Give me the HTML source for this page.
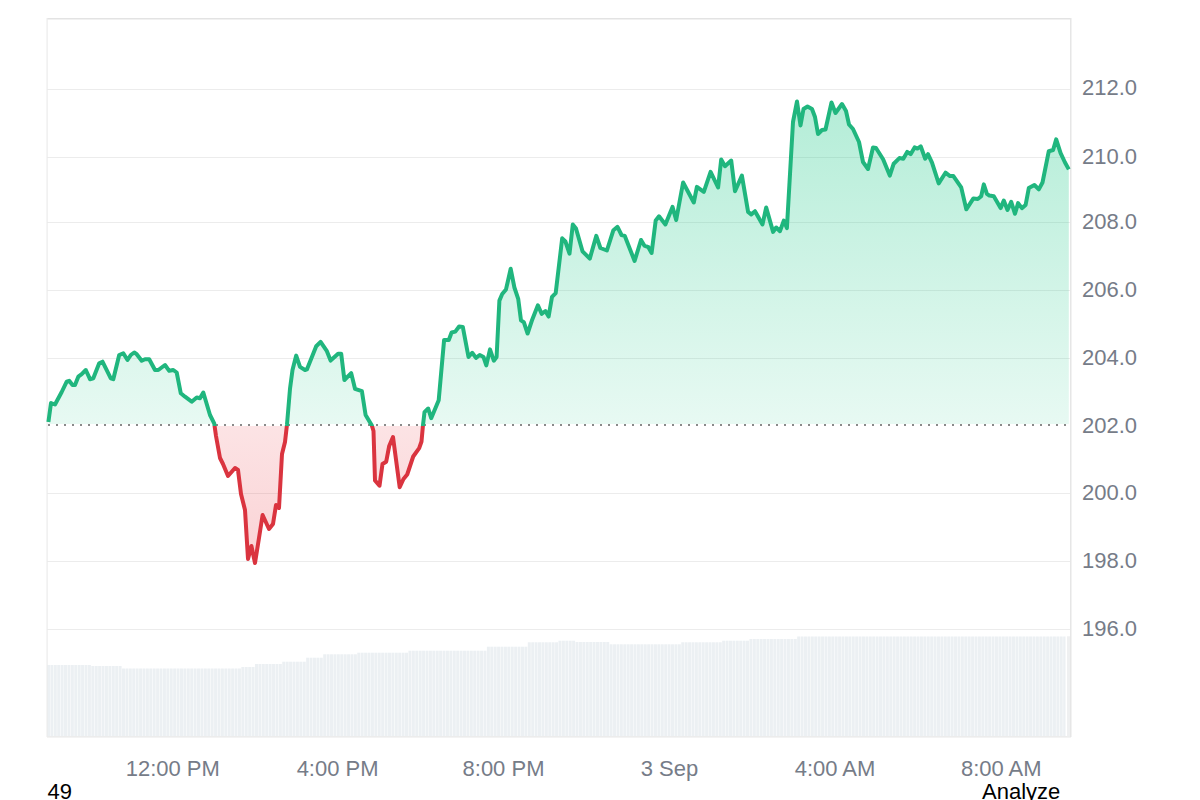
<!DOCTYPE html>
<html><head><meta charset="utf-8"><style>
html,body{margin:0;padding:0;background:#fff;width:1200px;height:800px;overflow:hidden}
svg{display:block;font-family:"Liberation Sans",sans-serif}
.lab{position:absolute;font-family:"Liberation Sans",sans-serif;font-size:21px;color:#000}
</style></head><body>
<svg width="1200" height="800" viewBox="0 0 1200 800">
<defs>
<linearGradient id="gg" x1="0" y1="18" x2="0" y2="426" gradientUnits="userSpaceOnUse">
<stop offset="0" stop-color="#16c784" stop-opacity="0.38"/>
<stop offset="1" stop-color="#16c784" stop-opacity="0.10"/>
</linearGradient>
<linearGradient id="rg" x1="0" y1="426" x2="0" y2="737" gradientUnits="userSpaceOnUse">
<stop offset="0" stop-color="#ea3943" stop-opacity="0.14"/>
<stop offset="1" stop-color="#ea3943" stop-opacity="0.33"/>
</linearGradient>
<clipPath id="top"><rect x="0" y="0" width="1200" height="426"/></clipPath>
<clipPath id="topf"><rect x="0" y="0" width="1200" height="424"/></clipPath>
<clipPath id="bot"><rect x="0" y="426" width="1200" height="374"/></clipPath>
</defs>
<rect width="1200" height="800" fill="#fff"/>
<g fill="#ecf0f3">
<rect x="47.00" y="665.0" width="2.96" height="71.0"/>
<rect x="50.41" y="665.0" width="2.96" height="71.0"/>
<rect x="53.82" y="665.0" width="2.96" height="71.0"/>
<rect x="57.23" y="665.0" width="2.96" height="71.0"/>
<rect x="60.64" y="665.0" width="2.96" height="71.0"/>
<rect x="64.05" y="665.0" width="2.96" height="71.0"/>
<rect x="67.46" y="665.0" width="2.96" height="71.0"/>
<rect x="70.87" y="665.0" width="2.96" height="71.0"/>
<rect x="74.28" y="665.0" width="2.96" height="71.0"/>
<rect x="77.69" y="665.0" width="2.96" height="71.0"/>
<rect x="81.10" y="665.0" width="2.96" height="71.0"/>
<rect x="84.51" y="665.0" width="2.96" height="71.0"/>
<rect x="87.92" y="665.0" width="2.96" height="71.0"/>
<rect x="91.33" y="666.0" width="2.96" height="70.0"/>
<rect x="94.74" y="666.0" width="2.96" height="70.0"/>
<rect x="98.15" y="666.0" width="2.96" height="70.0"/>
<rect x="101.56" y="666.0" width="2.96" height="70.0"/>
<rect x="104.97" y="666.0" width="2.96" height="70.0"/>
<rect x="108.38" y="666.0" width="2.96" height="70.0"/>
<rect x="111.79" y="666.0" width="2.96" height="70.0"/>
<rect x="115.20" y="666.0" width="2.96" height="70.0"/>
<rect x="118.61" y="666.0" width="2.96" height="70.0"/>
<rect x="122.02" y="668.5" width="2.96" height="67.5"/>
<rect x="125.43" y="668.5" width="2.96" height="67.5"/>
<rect x="128.84" y="668.5" width="2.96" height="67.5"/>
<rect x="132.25" y="668.5" width="2.96" height="67.5"/>
<rect x="135.66" y="668.5" width="2.96" height="67.5"/>
<rect x="139.07" y="668.5" width="2.96" height="67.5"/>
<rect x="142.48" y="668.5" width="2.96" height="67.5"/>
<rect x="145.89" y="668.5" width="2.96" height="67.5"/>
<rect x="149.30" y="668.5" width="2.96" height="67.5"/>
<rect x="152.71" y="668.5" width="2.96" height="67.5"/>
<rect x="156.12" y="668.5" width="2.96" height="67.5"/>
<rect x="159.53" y="668.5" width="2.96" height="67.5"/>
<rect x="162.94" y="668.5" width="2.96" height="67.5"/>
<rect x="166.35" y="668.5" width="2.96" height="67.5"/>
<rect x="169.76" y="668.5" width="2.96" height="67.5"/>
<rect x="173.17" y="668.5" width="2.96" height="67.5"/>
<rect x="176.58" y="668.5" width="2.96" height="67.5"/>
<rect x="179.99" y="668.5" width="2.96" height="67.5"/>
<rect x="183.40" y="668.5" width="2.96" height="67.5"/>
<rect x="186.81" y="668.5" width="2.96" height="67.5"/>
<rect x="190.22" y="668.5" width="2.96" height="67.5"/>
<rect x="193.63" y="668.5" width="2.96" height="67.5"/>
<rect x="197.04" y="668.5" width="2.96" height="67.5"/>
<rect x="200.45" y="668.5" width="2.96" height="67.5"/>
<rect x="203.86" y="668.5" width="2.96" height="67.5"/>
<rect x="207.27" y="668.5" width="2.96" height="67.5"/>
<rect x="210.68" y="668.5" width="2.96" height="67.5"/>
<rect x="214.09" y="668.5" width="2.96" height="67.5"/>
<rect x="217.50" y="668.5" width="2.96" height="67.5"/>
<rect x="220.91" y="668.5" width="2.96" height="67.5"/>
<rect x="224.32" y="668.5" width="2.96" height="67.5"/>
<rect x="227.73" y="668.5" width="2.96" height="67.5"/>
<rect x="231.14" y="668.5" width="2.96" height="67.5"/>
<rect x="234.55" y="668.5" width="2.96" height="67.5"/>
<rect x="237.96" y="668.5" width="2.96" height="67.5"/>
<rect x="241.37" y="667.0" width="2.96" height="69.0"/>
<rect x="244.78" y="667.0" width="2.96" height="69.0"/>
<rect x="248.19" y="667.0" width="2.96" height="69.0"/>
<rect x="251.60" y="667.0" width="2.96" height="69.0"/>
<rect x="255.01" y="664.0" width="2.96" height="72.0"/>
<rect x="258.42" y="664.0" width="2.96" height="72.0"/>
<rect x="261.83" y="664.0" width="2.96" height="72.0"/>
<rect x="265.24" y="664.0" width="2.96" height="72.0"/>
<rect x="268.65" y="664.0" width="2.96" height="72.0"/>
<rect x="272.06" y="664.0" width="2.96" height="72.0"/>
<rect x="275.47" y="664.0" width="2.96" height="72.0"/>
<rect x="278.88" y="664.0" width="2.96" height="72.0"/>
<rect x="282.29" y="661.7" width="2.96" height="74.3"/>
<rect x="285.70" y="661.7" width="2.96" height="74.3"/>
<rect x="289.11" y="661.7" width="2.96" height="74.3"/>
<rect x="292.52" y="661.7" width="2.96" height="74.3"/>
<rect x="295.93" y="661.7" width="2.96" height="74.3"/>
<rect x="299.34" y="661.7" width="2.96" height="74.3"/>
<rect x="302.75" y="661.7" width="2.96" height="74.3"/>
<rect x="306.16" y="657.7" width="2.96" height="78.3"/>
<rect x="309.57" y="657.7" width="2.96" height="78.3"/>
<rect x="312.98" y="657.7" width="2.96" height="78.3"/>
<rect x="316.39" y="657.7" width="2.96" height="78.3"/>
<rect x="319.80" y="657.7" width="2.96" height="78.3"/>
<rect x="323.21" y="654.3" width="2.96" height="81.7"/>
<rect x="326.62" y="654.3" width="2.96" height="81.7"/>
<rect x="330.03" y="654.3" width="2.96" height="81.7"/>
<rect x="333.44" y="654.3" width="2.96" height="81.7"/>
<rect x="336.85" y="654.3" width="2.96" height="81.7"/>
<rect x="340.26" y="654.3" width="2.96" height="81.7"/>
<rect x="343.67" y="654.3" width="2.96" height="81.7"/>
<rect x="347.08" y="654.3" width="2.96" height="81.7"/>
<rect x="350.49" y="654.3" width="2.96" height="81.7"/>
<rect x="353.90" y="654.3" width="2.96" height="81.7"/>
<rect x="357.31" y="652.7" width="2.96" height="83.3"/>
<rect x="360.72" y="652.7" width="2.96" height="83.3"/>
<rect x="364.13" y="652.7" width="2.96" height="83.3"/>
<rect x="367.54" y="652.7" width="2.96" height="83.3"/>
<rect x="370.95" y="652.7" width="2.96" height="83.3"/>
<rect x="374.36" y="652.7" width="2.96" height="83.3"/>
<rect x="377.77" y="652.7" width="2.96" height="83.3"/>
<rect x="381.18" y="652.7" width="2.96" height="83.3"/>
<rect x="384.59" y="652.7" width="2.96" height="83.3"/>
<rect x="388.00" y="652.7" width="2.96" height="83.3"/>
<rect x="391.41" y="652.7" width="2.96" height="83.3"/>
<rect x="394.82" y="652.7" width="2.96" height="83.3"/>
<rect x="398.23" y="652.7" width="2.96" height="83.3"/>
<rect x="401.64" y="652.7" width="2.96" height="83.3"/>
<rect x="405.05" y="652.7" width="2.96" height="83.3"/>
<rect x="408.46" y="650.7" width="2.96" height="85.3"/>
<rect x="411.87" y="650.7" width="2.96" height="85.3"/>
<rect x="415.28" y="650.7" width="2.96" height="85.3"/>
<rect x="418.69" y="650.7" width="2.96" height="85.3"/>
<rect x="422.10" y="650.7" width="2.96" height="85.3"/>
<rect x="425.51" y="650.7" width="2.96" height="85.3"/>
<rect x="428.92" y="650.7" width="2.96" height="85.3"/>
<rect x="432.33" y="650.7" width="2.96" height="85.3"/>
<rect x="435.74" y="650.7" width="2.96" height="85.3"/>
<rect x="439.15" y="650.7" width="2.96" height="85.3"/>
<rect x="442.56" y="650.7" width="2.96" height="85.3"/>
<rect x="445.97" y="650.7" width="2.96" height="85.3"/>
<rect x="449.38" y="650.7" width="2.96" height="85.3"/>
<rect x="452.79" y="650.7" width="2.96" height="85.3"/>
<rect x="456.20" y="650.7" width="2.96" height="85.3"/>
<rect x="459.61" y="650.7" width="2.96" height="85.3"/>
<rect x="463.02" y="650.7" width="2.96" height="85.3"/>
<rect x="466.43" y="650.7" width="2.96" height="85.3"/>
<rect x="469.84" y="650.7" width="2.96" height="85.3"/>
<rect x="473.25" y="650.7" width="2.96" height="85.3"/>
<rect x="476.66" y="650.7" width="2.96" height="85.3"/>
<rect x="480.07" y="650.7" width="2.96" height="85.3"/>
<rect x="483.48" y="650.7" width="2.96" height="85.3"/>
<rect x="486.89" y="646.7" width="2.96" height="89.3"/>
<rect x="490.30" y="646.7" width="2.96" height="89.3"/>
<rect x="493.71" y="646.7" width="2.96" height="89.3"/>
<rect x="497.12" y="646.7" width="2.96" height="89.3"/>
<rect x="500.53" y="646.7" width="2.96" height="89.3"/>
<rect x="503.94" y="646.7" width="2.96" height="89.3"/>
<rect x="507.35" y="646.7" width="2.96" height="89.3"/>
<rect x="510.76" y="646.7" width="2.96" height="89.3"/>
<rect x="514.17" y="646.7" width="2.96" height="89.3"/>
<rect x="517.58" y="646.7" width="2.96" height="89.3"/>
<rect x="520.99" y="646.7" width="2.96" height="89.3"/>
<rect x="524.40" y="646.7" width="2.96" height="89.3"/>
<rect x="527.81" y="642.3" width="2.96" height="93.7"/>
<rect x="531.22" y="642.3" width="2.96" height="93.7"/>
<rect x="534.63" y="642.3" width="2.96" height="93.7"/>
<rect x="538.04" y="642.3" width="2.96" height="93.7"/>
<rect x="541.45" y="642.3" width="2.96" height="93.7"/>
<rect x="544.86" y="642.3" width="2.96" height="93.7"/>
<rect x="548.27" y="642.3" width="2.96" height="93.7"/>
<rect x="551.68" y="642.3" width="2.96" height="93.7"/>
<rect x="555.09" y="642.3" width="2.96" height="93.7"/>
<rect x="558.50" y="640.7" width="2.96" height="95.3"/>
<rect x="561.91" y="640.7" width="2.96" height="95.3"/>
<rect x="565.32" y="640.7" width="2.96" height="95.3"/>
<rect x="568.73" y="640.7" width="2.96" height="95.3"/>
<rect x="572.14" y="640.7" width="2.96" height="95.3"/>
<rect x="575.55" y="642.0" width="2.96" height="94.0"/>
<rect x="578.96" y="642.0" width="2.96" height="94.0"/>
<rect x="582.37" y="642.0" width="2.96" height="94.0"/>
<rect x="585.78" y="642.0" width="2.96" height="94.0"/>
<rect x="589.19" y="642.0" width="2.96" height="94.0"/>
<rect x="592.60" y="642.0" width="2.96" height="94.0"/>
<rect x="596.01" y="642.0" width="2.96" height="94.0"/>
<rect x="599.42" y="642.0" width="2.96" height="94.0"/>
<rect x="602.83" y="642.0" width="2.96" height="94.0"/>
<rect x="606.24" y="642.0" width="2.96" height="94.0"/>
<rect x="609.65" y="644.3" width="2.96" height="91.7"/>
<rect x="613.06" y="644.3" width="2.96" height="91.7"/>
<rect x="616.47" y="644.3" width="2.96" height="91.7"/>
<rect x="619.88" y="644.3" width="2.96" height="91.7"/>
<rect x="623.29" y="644.3" width="2.96" height="91.7"/>
<rect x="626.70" y="644.3" width="2.96" height="91.7"/>
<rect x="630.11" y="644.3" width="2.96" height="91.7"/>
<rect x="633.52" y="644.3" width="2.96" height="91.7"/>
<rect x="636.93" y="644.3" width="2.96" height="91.7"/>
<rect x="640.34" y="644.3" width="2.96" height="91.7"/>
<rect x="643.75" y="644.3" width="2.96" height="91.7"/>
<rect x="647.16" y="644.3" width="2.96" height="91.7"/>
<rect x="650.57" y="644.3" width="2.96" height="91.7"/>
<rect x="653.98" y="644.3" width="2.96" height="91.7"/>
<rect x="657.39" y="644.3" width="2.96" height="91.7"/>
<rect x="660.80" y="644.3" width="2.96" height="91.7"/>
<rect x="664.21" y="644.3" width="2.96" height="91.7"/>
<rect x="667.62" y="644.3" width="2.96" height="91.7"/>
<rect x="671.03" y="644.3" width="2.96" height="91.7"/>
<rect x="674.44" y="644.3" width="2.96" height="91.7"/>
<rect x="677.85" y="644.3" width="2.96" height="91.7"/>
<rect x="681.26" y="642.3" width="2.96" height="93.7"/>
<rect x="684.67" y="642.3" width="2.96" height="93.7"/>
<rect x="688.08" y="642.3" width="2.96" height="93.7"/>
<rect x="691.49" y="642.3" width="2.96" height="93.7"/>
<rect x="694.90" y="642.3" width="2.96" height="93.7"/>
<rect x="698.31" y="642.3" width="2.96" height="93.7"/>
<rect x="701.72" y="642.3" width="2.96" height="93.7"/>
<rect x="705.13" y="642.3" width="2.96" height="93.7"/>
<rect x="708.54" y="642.3" width="2.96" height="93.7"/>
<rect x="711.95" y="642.3" width="2.96" height="93.7"/>
<rect x="715.36" y="642.3" width="2.96" height="93.7"/>
<rect x="718.77" y="642.3" width="2.96" height="93.7"/>
<rect x="722.18" y="640.7" width="2.96" height="95.3"/>
<rect x="725.59" y="640.7" width="2.96" height="95.3"/>
<rect x="729.00" y="640.7" width="2.96" height="95.3"/>
<rect x="732.41" y="640.7" width="2.96" height="95.3"/>
<rect x="735.82" y="640.7" width="2.96" height="95.3"/>
<rect x="739.23" y="640.7" width="2.96" height="95.3"/>
<rect x="742.64" y="640.7" width="2.96" height="95.3"/>
<rect x="746.05" y="640.7" width="2.96" height="95.3"/>
<rect x="749.46" y="639.0" width="2.96" height="97.0"/>
<rect x="752.87" y="639.0" width="2.96" height="97.0"/>
<rect x="756.28" y="639.0" width="2.96" height="97.0"/>
<rect x="759.69" y="639.0" width="2.96" height="97.0"/>
<rect x="763.10" y="639.0" width="2.96" height="97.0"/>
<rect x="766.51" y="639.0" width="2.96" height="97.0"/>
<rect x="769.92" y="639.0" width="2.96" height="97.0"/>
<rect x="773.33" y="639.0" width="2.96" height="97.0"/>
<rect x="776.74" y="639.0" width="2.96" height="97.0"/>
<rect x="780.15" y="639.0" width="2.96" height="97.0"/>
<rect x="783.56" y="639.0" width="2.96" height="97.0"/>
<rect x="786.97" y="639.0" width="2.96" height="97.0"/>
<rect x="790.38" y="639.0" width="2.96" height="97.0"/>
<rect x="793.79" y="639.0" width="2.96" height="97.0"/>
<rect x="797.20" y="636.5" width="2.96" height="99.5"/>
<rect x="800.61" y="636.5" width="2.96" height="99.5"/>
<rect x="804.02" y="636.5" width="2.96" height="99.5"/>
<rect x="807.43" y="636.5" width="2.96" height="99.5"/>
<rect x="810.84" y="636.5" width="2.96" height="99.5"/>
<rect x="814.25" y="636.5" width="2.96" height="99.5"/>
<rect x="817.66" y="636.5" width="2.96" height="99.5"/>
<rect x="821.07" y="636.5" width="2.96" height="99.5"/>
<rect x="824.48" y="636.5" width="2.96" height="99.5"/>
<rect x="827.89" y="636.5" width="2.96" height="99.5"/>
<rect x="831.30" y="636.5" width="2.96" height="99.5"/>
<rect x="834.71" y="636.5" width="2.96" height="99.5"/>
<rect x="838.12" y="636.5" width="2.96" height="99.5"/>
<rect x="841.53" y="636.5" width="2.96" height="99.5"/>
<rect x="844.94" y="636.5" width="2.96" height="99.5"/>
<rect x="848.35" y="636.5" width="2.96" height="99.5"/>
<rect x="851.76" y="636.5" width="2.96" height="99.5"/>
<rect x="855.17" y="636.5" width="2.96" height="99.5"/>
<rect x="858.58" y="636.5" width="2.96" height="99.5"/>
<rect x="861.99" y="636.5" width="2.96" height="99.5"/>
<rect x="865.40" y="636.5" width="2.96" height="99.5"/>
<rect x="868.81" y="636.5" width="2.96" height="99.5"/>
<rect x="872.22" y="636.5" width="2.96" height="99.5"/>
<rect x="875.63" y="636.5" width="2.96" height="99.5"/>
<rect x="879.04" y="636.5" width="2.96" height="99.5"/>
<rect x="882.45" y="636.5" width="2.96" height="99.5"/>
<rect x="885.86" y="636.5" width="2.96" height="99.5"/>
<rect x="889.27" y="636.5" width="2.96" height="99.5"/>
<rect x="892.68" y="636.5" width="2.96" height="99.5"/>
<rect x="896.09" y="636.5" width="2.96" height="99.5"/>
<rect x="899.50" y="636.5" width="2.96" height="99.5"/>
<rect x="902.91" y="636.5" width="2.96" height="99.5"/>
<rect x="906.32" y="636.5" width="2.96" height="99.5"/>
<rect x="909.73" y="636.5" width="2.96" height="99.5"/>
<rect x="913.14" y="636.5" width="2.96" height="99.5"/>
<rect x="916.55" y="636.5" width="2.96" height="99.5"/>
<rect x="919.96" y="636.5" width="2.96" height="99.5"/>
<rect x="923.37" y="636.5" width="2.96" height="99.5"/>
<rect x="926.78" y="636.5" width="2.96" height="99.5"/>
<rect x="930.19" y="636.5" width="2.96" height="99.5"/>
<rect x="933.60" y="636.5" width="2.96" height="99.5"/>
<rect x="937.01" y="636.5" width="2.96" height="99.5"/>
<rect x="940.42" y="636.5" width="2.96" height="99.5"/>
<rect x="943.83" y="636.5" width="2.96" height="99.5"/>
<rect x="947.24" y="636.5" width="2.96" height="99.5"/>
<rect x="950.65" y="636.5" width="2.96" height="99.5"/>
<rect x="954.06" y="636.5" width="2.96" height="99.5"/>
<rect x="957.47" y="636.5" width="2.96" height="99.5"/>
<rect x="960.88" y="636.5" width="2.96" height="99.5"/>
<rect x="964.29" y="636.5" width="2.96" height="99.5"/>
<rect x="967.70" y="636.5" width="2.96" height="99.5"/>
<rect x="971.11" y="636.5" width="2.96" height="99.5"/>
<rect x="974.52" y="636.5" width="2.96" height="99.5"/>
<rect x="977.93" y="636.5" width="2.96" height="99.5"/>
<rect x="981.34" y="636.5" width="2.96" height="99.5"/>
<rect x="984.75" y="636.5" width="2.96" height="99.5"/>
<rect x="988.16" y="636.5" width="2.96" height="99.5"/>
<rect x="991.57" y="636.5" width="2.96" height="99.5"/>
<rect x="994.98" y="636.5" width="2.96" height="99.5"/>
<rect x="998.39" y="636.5" width="2.96" height="99.5"/>
<rect x="1001.80" y="636.5" width="2.96" height="99.5"/>
<rect x="1005.21" y="636.5" width="2.96" height="99.5"/>
<rect x="1008.62" y="636.5" width="2.96" height="99.5"/>
<rect x="1012.03" y="636.5" width="2.96" height="99.5"/>
<rect x="1015.44" y="636.5" width="2.96" height="99.5"/>
<rect x="1018.85" y="636.5" width="2.96" height="99.5"/>
<rect x="1022.26" y="636.5" width="2.96" height="99.5"/>
<rect x="1025.67" y="636.5" width="2.96" height="99.5"/>
<rect x="1029.08" y="636.5" width="2.96" height="99.5"/>
<rect x="1032.49" y="636.5" width="2.96" height="99.5"/>
<rect x="1035.90" y="636.5" width="2.96" height="99.5"/>
<rect x="1039.31" y="636.5" width="2.96" height="99.5"/>
<rect x="1042.72" y="636.5" width="2.96" height="99.5"/>
<rect x="1046.13" y="636.5" width="2.96" height="99.5"/>
<rect x="1049.54" y="636.5" width="2.96" height="99.5"/>
<rect x="1052.95" y="636.5" width="2.96" height="99.5"/>
<rect x="1056.36" y="636.5" width="2.96" height="99.5"/>
<rect x="1059.77" y="636.5" width="2.96" height="99.5"/>
<rect x="1063.18" y="636.5" width="2.32" height="99.5"/>
</g>
<rect x="47" y="89" width="1024" height="1" fill="#ececec"/>
<rect x="47" y="157" width="1024" height="1" fill="#ececec"/>
<rect x="47" y="222" width="1024" height="1" fill="#ececec"/>
<rect x="47" y="290" width="1024" height="1" fill="#ececec"/>
<rect x="47" y="358" width="1024" height="1" fill="#ececec"/>
<rect x="47" y="493" width="1024" height="1" fill="#ececec"/>
<rect x="47" y="561" width="1024" height="1" fill="#ececec"/>
<rect x="47" y="629" width="1024" height="1" fill="#ececec"/>
<rect x="47" y="18" width="1024" height="1.5" fill="#e3e3e3"/>
<rect x="46.5" y="18" width="1.2" height="719" fill="#ececec"/>
<rect x="47" y="736" width="1024" height="1.6" fill="#ececec"/>
<rect x="1067" y="636.3" width="3" height="100" fill="#eff0f1"/>
<rect x="1070" y="18" width="1.5" height="719" fill="#e6e6e6"/>
<path d="M48.4,422.0 L51.0,403.0 L55.0,404.5 L61.7,392.0 L66.7,381.7 L69.2,380.8 L72.5,385.0 L75.0,385.0 L78.3,376.7 L81.7,374.2 L85.8,370.0 L90.0,379.2 L93.3,378.3 L99.2,363.3 L102.5,361.7 L110.8,378.3 L113.3,379.2 L119.2,355.0 L123.3,353.3 L127.5,360.0 L130.8,355.0 L134.2,352.5 L136.7,354.2 L141.7,360.8 L145.0,359.2 L149.2,359.2 L155.0,370.0 L158.3,370.0 L165.0,365.0 L169.2,370.8 L173.3,370.0 L176.7,372.5 L180.8,393.3 L185.0,396.7 L191.7,401.7 L196.7,397.5 L200.0,398.3 L203.3,392.5 L210.0,415.0 L214.2,423.3 L216.0,436.0 L220.0,458.0 L223.0,464.0 L228.0,476.0 L235.0,468.0 L238.0,470.0 L241.0,494.0 L245.0,510.0 L248.0,559.0 L251.4,546.0 L255.0,563.0 L259.0,538.0 L262.6,515.0 L269.0,529.0 L273.0,524.0 L276.0,505.0 L279.0,508.0 L282.0,454.0 L285.0,442.0 L287.0,424.4 L290.0,388.8 L292.5,370.0 L296.2,355.6 L300.0,366.9 L305.0,370.0 L306.9,369.4 L316.2,346.2 L320.6,341.9 L326.9,351.2 L330.6,360.6 L338.1,353.8 L341.2,353.8 L344.4,380.0 L351.2,373.1 L355.0,388.8 L361.9,391.2 L365.6,415.0 L371.9,425.6 L373.5,431.0 L375.0,480.5 L379.5,485.7 L382.5,464.0 L386.2,461.7 L389.2,446.0 L393.0,437.0 L399.7,487.2 L403.5,479.0 L407.2,474.5 L413.2,456.5 L419.2,448.2 L421.5,441.5 L423.0,425.0 L424.5,412.2 L428.2,408.5 L431.2,418.2 L438.7,400.2 L444.1,340.0 L448.8,340.0 L451.6,332.5 L455.3,331.6 L459.1,326.5 L462.8,326.9 L468.5,357.0 L472.2,352.8 L476.0,357.9 L479.7,355.0 L483.5,357.0 L486.3,365.4 L490.0,349.4 L493.8,360.7 L496.6,357.0 L499.4,300.6 L502.2,294.0 L506.0,289.4 L510.7,268.8 L514.4,287.5 L518.2,298.8 L521.0,320.4 L523.8,322.2 L527.6,333.5 L532.3,319.4 L537.9,305.3 L541.6,313.8 L545.4,311.0 L548.6,316.6 L552.0,296.9 L555.7,293.1 L562.2,238.3 L565.4,241.5 L569.5,253.7 L572.8,224.5 L576.0,228.5 L582.5,251.3 L589.8,258.6 L596.3,235.9 L600.4,248.0 L606.9,250.5 L613.4,230.2 L617.5,226.9 L621.5,235.0 L624.8,235.9 L634.6,261.0 L641.0,240.0 L644.3,245.6 L648.4,247.2 L651.6,253.0 L655.7,220.4 L659.0,216.3 L665.4,224.5 L672.5,206.9 L676.2,220.0 L683.1,182.5 L693.8,202.5 L696.9,186.9 L703.8,191.9 L710.6,171.9 L718.1,187.5 L721.2,159.4 L725.0,166.2 L731.2,160.6 L735.0,191.2 L741.9,175.6 L748.1,211.9 L751.2,214.4 L755.0,211.2 L762.5,224.4 L766.2,207.5 L773.1,231.9 L776.2,227.5 L780.0,231.2 L783.8,220.6 L786.9,228.1 L793.0,122.0 L797.0,101.5 L800.5,125.5 L803.5,109.0 L807.5,106.5 L812.0,109.0 L815.0,117.0 L818.0,134.0 L822.0,130.0 L825.5,129.5 L831.5,102.5 L835.5,113.0 L842.0,104.0 L846.0,111.0 L849.0,124.5 L853.0,129.0 L859.0,142.0 L863.0,162.0 L868.0,169.0 L873.0,147.5 L876.0,148.0 L883.1,159.2 L889.8,175.6 L893.7,163.7 L899.4,158.1 L903.3,158.7 L907.2,151.9 L910.6,154.2 L914.6,147.4 L917.4,148.6 L920.7,146.3 L925.2,158.7 L928.0,154.2 L932.0,162.6 L938.7,183.4 L945.5,172.7 L950.0,176.1 L953.4,176.1 L961.2,187.4 L966.3,209.3 L973.4,198.4 L977.8,199.0 L981.2,196.2 L983.8,184.4 L986.9,193.8 L989.4,195.6 L993.8,196.2 L1000.6,208.1 L1003.8,200.6 L1007.5,210.0 L1011.2,201.9 L1015.0,213.8 L1018.1,203.1 L1021.9,208.1 L1025.6,205.0 L1028.8,188.1 L1034.4,185.0 L1038.8,189.4 L1042.5,182.5 L1048.8,151.2 L1053.1,150.0 L1056.2,139.4 L1060.6,153.1 L1065.0,162.5 L1068.8,169.4 L1068.8,426 L48.4,426 Z" fill="url(#gg)" clip-path="url(#topf)"/>
<path d="M48.4,422.0 L51.0,403.0 L55.0,404.5 L61.7,392.0 L66.7,381.7 L69.2,380.8 L72.5,385.0 L75.0,385.0 L78.3,376.7 L81.7,374.2 L85.8,370.0 L90.0,379.2 L93.3,378.3 L99.2,363.3 L102.5,361.7 L110.8,378.3 L113.3,379.2 L119.2,355.0 L123.3,353.3 L127.5,360.0 L130.8,355.0 L134.2,352.5 L136.7,354.2 L141.7,360.8 L145.0,359.2 L149.2,359.2 L155.0,370.0 L158.3,370.0 L165.0,365.0 L169.2,370.8 L173.3,370.0 L176.7,372.5 L180.8,393.3 L185.0,396.7 L191.7,401.7 L196.7,397.5 L200.0,398.3 L203.3,392.5 L210.0,415.0 L214.2,423.3 L216.0,436.0 L220.0,458.0 L223.0,464.0 L228.0,476.0 L235.0,468.0 L238.0,470.0 L241.0,494.0 L245.0,510.0 L248.0,559.0 L251.4,546.0 L255.0,563.0 L259.0,538.0 L262.6,515.0 L269.0,529.0 L273.0,524.0 L276.0,505.0 L279.0,508.0 L282.0,454.0 L285.0,442.0 L287.0,424.4 L290.0,388.8 L292.5,370.0 L296.2,355.6 L300.0,366.9 L305.0,370.0 L306.9,369.4 L316.2,346.2 L320.6,341.9 L326.9,351.2 L330.6,360.6 L338.1,353.8 L341.2,353.8 L344.4,380.0 L351.2,373.1 L355.0,388.8 L361.9,391.2 L365.6,415.0 L371.9,425.6 L373.5,431.0 L375.0,480.5 L379.5,485.7 L382.5,464.0 L386.2,461.7 L389.2,446.0 L393.0,437.0 L399.7,487.2 L403.5,479.0 L407.2,474.5 L413.2,456.5 L419.2,448.2 L421.5,441.5 L423.0,425.0 L424.5,412.2 L428.2,408.5 L431.2,418.2 L438.7,400.2 L444.1,340.0 L448.8,340.0 L451.6,332.5 L455.3,331.6 L459.1,326.5 L462.8,326.9 L468.5,357.0 L472.2,352.8 L476.0,357.9 L479.7,355.0 L483.5,357.0 L486.3,365.4 L490.0,349.4 L493.8,360.7 L496.6,357.0 L499.4,300.6 L502.2,294.0 L506.0,289.4 L510.7,268.8 L514.4,287.5 L518.2,298.8 L521.0,320.4 L523.8,322.2 L527.6,333.5 L532.3,319.4 L537.9,305.3 L541.6,313.8 L545.4,311.0 L548.6,316.6 L552.0,296.9 L555.7,293.1 L562.2,238.3 L565.4,241.5 L569.5,253.7 L572.8,224.5 L576.0,228.5 L582.5,251.3 L589.8,258.6 L596.3,235.9 L600.4,248.0 L606.9,250.5 L613.4,230.2 L617.5,226.9 L621.5,235.0 L624.8,235.9 L634.6,261.0 L641.0,240.0 L644.3,245.6 L648.4,247.2 L651.6,253.0 L655.7,220.4 L659.0,216.3 L665.4,224.5 L672.5,206.9 L676.2,220.0 L683.1,182.5 L693.8,202.5 L696.9,186.9 L703.8,191.9 L710.6,171.9 L718.1,187.5 L721.2,159.4 L725.0,166.2 L731.2,160.6 L735.0,191.2 L741.9,175.6 L748.1,211.9 L751.2,214.4 L755.0,211.2 L762.5,224.4 L766.2,207.5 L773.1,231.9 L776.2,227.5 L780.0,231.2 L783.8,220.6 L786.9,228.1 L793.0,122.0 L797.0,101.5 L800.5,125.5 L803.5,109.0 L807.5,106.5 L812.0,109.0 L815.0,117.0 L818.0,134.0 L822.0,130.0 L825.5,129.5 L831.5,102.5 L835.5,113.0 L842.0,104.0 L846.0,111.0 L849.0,124.5 L853.0,129.0 L859.0,142.0 L863.0,162.0 L868.0,169.0 L873.0,147.5 L876.0,148.0 L883.1,159.2 L889.8,175.6 L893.7,163.7 L899.4,158.1 L903.3,158.7 L907.2,151.9 L910.6,154.2 L914.6,147.4 L917.4,148.6 L920.7,146.3 L925.2,158.7 L928.0,154.2 L932.0,162.6 L938.7,183.4 L945.5,172.7 L950.0,176.1 L953.4,176.1 L961.2,187.4 L966.3,209.3 L973.4,198.4 L977.8,199.0 L981.2,196.2 L983.8,184.4 L986.9,193.8 L989.4,195.6 L993.8,196.2 L1000.6,208.1 L1003.8,200.6 L1007.5,210.0 L1011.2,201.9 L1015.0,213.8 L1018.1,203.1 L1021.9,208.1 L1025.6,205.0 L1028.8,188.1 L1034.4,185.0 L1038.8,189.4 L1042.5,182.5 L1048.8,151.2 L1053.1,150.0 L1056.2,139.4 L1060.6,153.1 L1065.0,162.5 L1068.8,169.4 L1068.8,426 L48.4,426 Z" fill="url(#rg)" clip-path="url(#bot)"/>
<line x1="48" y1="425" x2="1070" y2="425" stroke="#8a8a8a" stroke-width="2" stroke-dasharray="2 6"/>
<path d="M48.4,422.0 L51.0,403.0 L55.0,404.5 L61.7,392.0 L66.7,381.7 L69.2,380.8 L72.5,385.0 L75.0,385.0 L78.3,376.7 L81.7,374.2 L85.8,370.0 L90.0,379.2 L93.3,378.3 L99.2,363.3 L102.5,361.7 L110.8,378.3 L113.3,379.2 L119.2,355.0 L123.3,353.3 L127.5,360.0 L130.8,355.0 L134.2,352.5 L136.7,354.2 L141.7,360.8 L145.0,359.2 L149.2,359.2 L155.0,370.0 L158.3,370.0 L165.0,365.0 L169.2,370.8 L173.3,370.0 L176.7,372.5 L180.8,393.3 L185.0,396.7 L191.7,401.7 L196.7,397.5 L200.0,398.3 L203.3,392.5 L210.0,415.0 L214.2,423.3 L216.0,436.0 L220.0,458.0 L223.0,464.0 L228.0,476.0 L235.0,468.0 L238.0,470.0 L241.0,494.0 L245.0,510.0 L248.0,559.0 L251.4,546.0 L255.0,563.0 L259.0,538.0 L262.6,515.0 L269.0,529.0 L273.0,524.0 L276.0,505.0 L279.0,508.0 L282.0,454.0 L285.0,442.0 L287.0,424.4 L290.0,388.8 L292.5,370.0 L296.2,355.6 L300.0,366.9 L305.0,370.0 L306.9,369.4 L316.2,346.2 L320.6,341.9 L326.9,351.2 L330.6,360.6 L338.1,353.8 L341.2,353.8 L344.4,380.0 L351.2,373.1 L355.0,388.8 L361.9,391.2 L365.6,415.0 L371.9,425.6 L373.5,431.0 L375.0,480.5 L379.5,485.7 L382.5,464.0 L386.2,461.7 L389.2,446.0 L393.0,437.0 L399.7,487.2 L403.5,479.0 L407.2,474.5 L413.2,456.5 L419.2,448.2 L421.5,441.5 L423.0,425.0 L424.5,412.2 L428.2,408.5 L431.2,418.2 L438.7,400.2 L444.1,340.0 L448.8,340.0 L451.6,332.5 L455.3,331.6 L459.1,326.5 L462.8,326.9 L468.5,357.0 L472.2,352.8 L476.0,357.9 L479.7,355.0 L483.5,357.0 L486.3,365.4 L490.0,349.4 L493.8,360.7 L496.6,357.0 L499.4,300.6 L502.2,294.0 L506.0,289.4 L510.7,268.8 L514.4,287.5 L518.2,298.8 L521.0,320.4 L523.8,322.2 L527.6,333.5 L532.3,319.4 L537.9,305.3 L541.6,313.8 L545.4,311.0 L548.6,316.6 L552.0,296.9 L555.7,293.1 L562.2,238.3 L565.4,241.5 L569.5,253.7 L572.8,224.5 L576.0,228.5 L582.5,251.3 L589.8,258.6 L596.3,235.9 L600.4,248.0 L606.9,250.5 L613.4,230.2 L617.5,226.9 L621.5,235.0 L624.8,235.9 L634.6,261.0 L641.0,240.0 L644.3,245.6 L648.4,247.2 L651.6,253.0 L655.7,220.4 L659.0,216.3 L665.4,224.5 L672.5,206.9 L676.2,220.0 L683.1,182.5 L693.8,202.5 L696.9,186.9 L703.8,191.9 L710.6,171.9 L718.1,187.5 L721.2,159.4 L725.0,166.2 L731.2,160.6 L735.0,191.2 L741.9,175.6 L748.1,211.9 L751.2,214.4 L755.0,211.2 L762.5,224.4 L766.2,207.5 L773.1,231.9 L776.2,227.5 L780.0,231.2 L783.8,220.6 L786.9,228.1 L793.0,122.0 L797.0,101.5 L800.5,125.5 L803.5,109.0 L807.5,106.5 L812.0,109.0 L815.0,117.0 L818.0,134.0 L822.0,130.0 L825.5,129.5 L831.5,102.5 L835.5,113.0 L842.0,104.0 L846.0,111.0 L849.0,124.5 L853.0,129.0 L859.0,142.0 L863.0,162.0 L868.0,169.0 L873.0,147.5 L876.0,148.0 L883.1,159.2 L889.8,175.6 L893.7,163.7 L899.4,158.1 L903.3,158.7 L907.2,151.9 L910.6,154.2 L914.6,147.4 L917.4,148.6 L920.7,146.3 L925.2,158.7 L928.0,154.2 L932.0,162.6 L938.7,183.4 L945.5,172.7 L950.0,176.1 L953.4,176.1 L961.2,187.4 L966.3,209.3 L973.4,198.4 L977.8,199.0 L981.2,196.2 L983.8,184.4 L986.9,193.8 L989.4,195.6 L993.8,196.2 L1000.6,208.1 L1003.8,200.6 L1007.5,210.0 L1011.2,201.9 L1015.0,213.8 L1018.1,203.1 L1021.9,208.1 L1025.6,205.0 L1028.8,188.1 L1034.4,185.0 L1038.8,189.4 L1042.5,182.5 L1048.8,151.2 L1053.1,150.0 L1056.2,139.4 L1060.6,153.1 L1065.0,162.5 L1068.8,169.4" fill="none" stroke="#20b67e" stroke-width="4" stroke-linejoin="round" stroke-linecap="butt" clip-path="url(#top)"/>
<path d="M48.4,422.0 L51.0,403.0 L55.0,404.5 L61.7,392.0 L66.7,381.7 L69.2,380.8 L72.5,385.0 L75.0,385.0 L78.3,376.7 L81.7,374.2 L85.8,370.0 L90.0,379.2 L93.3,378.3 L99.2,363.3 L102.5,361.7 L110.8,378.3 L113.3,379.2 L119.2,355.0 L123.3,353.3 L127.5,360.0 L130.8,355.0 L134.2,352.5 L136.7,354.2 L141.7,360.8 L145.0,359.2 L149.2,359.2 L155.0,370.0 L158.3,370.0 L165.0,365.0 L169.2,370.8 L173.3,370.0 L176.7,372.5 L180.8,393.3 L185.0,396.7 L191.7,401.7 L196.7,397.5 L200.0,398.3 L203.3,392.5 L210.0,415.0 L214.2,423.3 L216.0,436.0 L220.0,458.0 L223.0,464.0 L228.0,476.0 L235.0,468.0 L238.0,470.0 L241.0,494.0 L245.0,510.0 L248.0,559.0 L251.4,546.0 L255.0,563.0 L259.0,538.0 L262.6,515.0 L269.0,529.0 L273.0,524.0 L276.0,505.0 L279.0,508.0 L282.0,454.0 L285.0,442.0 L287.0,424.4 L290.0,388.8 L292.5,370.0 L296.2,355.6 L300.0,366.9 L305.0,370.0 L306.9,369.4 L316.2,346.2 L320.6,341.9 L326.9,351.2 L330.6,360.6 L338.1,353.8 L341.2,353.8 L344.4,380.0 L351.2,373.1 L355.0,388.8 L361.9,391.2 L365.6,415.0 L371.9,425.6 L373.5,431.0 L375.0,480.5 L379.5,485.7 L382.5,464.0 L386.2,461.7 L389.2,446.0 L393.0,437.0 L399.7,487.2 L403.5,479.0 L407.2,474.5 L413.2,456.5 L419.2,448.2 L421.5,441.5 L423.0,425.0 L424.5,412.2 L428.2,408.5 L431.2,418.2 L438.7,400.2 L444.1,340.0 L448.8,340.0 L451.6,332.5 L455.3,331.6 L459.1,326.5 L462.8,326.9 L468.5,357.0 L472.2,352.8 L476.0,357.9 L479.7,355.0 L483.5,357.0 L486.3,365.4 L490.0,349.4 L493.8,360.7 L496.6,357.0 L499.4,300.6 L502.2,294.0 L506.0,289.4 L510.7,268.8 L514.4,287.5 L518.2,298.8 L521.0,320.4 L523.8,322.2 L527.6,333.5 L532.3,319.4 L537.9,305.3 L541.6,313.8 L545.4,311.0 L548.6,316.6 L552.0,296.9 L555.7,293.1 L562.2,238.3 L565.4,241.5 L569.5,253.7 L572.8,224.5 L576.0,228.5 L582.5,251.3 L589.8,258.6 L596.3,235.9 L600.4,248.0 L606.9,250.5 L613.4,230.2 L617.5,226.9 L621.5,235.0 L624.8,235.9 L634.6,261.0 L641.0,240.0 L644.3,245.6 L648.4,247.2 L651.6,253.0 L655.7,220.4 L659.0,216.3 L665.4,224.5 L672.5,206.9 L676.2,220.0 L683.1,182.5 L693.8,202.5 L696.9,186.9 L703.8,191.9 L710.6,171.9 L718.1,187.5 L721.2,159.4 L725.0,166.2 L731.2,160.6 L735.0,191.2 L741.9,175.6 L748.1,211.9 L751.2,214.4 L755.0,211.2 L762.5,224.4 L766.2,207.5 L773.1,231.9 L776.2,227.5 L780.0,231.2 L783.8,220.6 L786.9,228.1 L793.0,122.0 L797.0,101.5 L800.5,125.5 L803.5,109.0 L807.5,106.5 L812.0,109.0 L815.0,117.0 L818.0,134.0 L822.0,130.0 L825.5,129.5 L831.5,102.5 L835.5,113.0 L842.0,104.0 L846.0,111.0 L849.0,124.5 L853.0,129.0 L859.0,142.0 L863.0,162.0 L868.0,169.0 L873.0,147.5 L876.0,148.0 L883.1,159.2 L889.8,175.6 L893.7,163.7 L899.4,158.1 L903.3,158.7 L907.2,151.9 L910.6,154.2 L914.6,147.4 L917.4,148.6 L920.7,146.3 L925.2,158.7 L928.0,154.2 L932.0,162.6 L938.7,183.4 L945.5,172.7 L950.0,176.1 L953.4,176.1 L961.2,187.4 L966.3,209.3 L973.4,198.4 L977.8,199.0 L981.2,196.2 L983.8,184.4 L986.9,193.8 L989.4,195.6 L993.8,196.2 L1000.6,208.1 L1003.8,200.6 L1007.5,210.0 L1011.2,201.9 L1015.0,213.8 L1018.1,203.1 L1021.9,208.1 L1025.6,205.0 L1028.8,188.1 L1034.4,185.0 L1038.8,189.4 L1042.5,182.5 L1048.8,151.2 L1053.1,150.0 L1056.2,139.4 L1060.6,153.1 L1065.0,162.5 L1068.8,169.4" fill="none" stroke="#da343f" stroke-width="4" stroke-linejoin="round" stroke-linecap="butt" clip-path="url(#bot)"/>
<g font-size="22" fill="#767c88">
<text x="1082" y="95">212.0</text>
<text x="1082" y="164">210.0</text>
<text x="1082" y="229">208.0</text>
<text x="1082" y="297">206.0</text>
<text x="1082" y="365">204.0</text>
<text x="1082" y="433">202.0</text>
<text x="1082" y="500">200.0</text>
<text x="1082" y="568">198.0</text>
<text x="1082" y="636">196.0</text>
<text x="172.8" y="776" text-anchor="middle">12:00 PM</text>
<text x="337.6" y="776" text-anchor="middle">4:00 PM</text>
<text x="503.5" y="776" text-anchor="middle">8:00 PM</text>
<text x="669.5" y="776" text-anchor="middle">3 Sep</text>
<text x="835" y="776" text-anchor="middle">4:00 AM</text>
<text x="1001.25" y="776" text-anchor="middle">8:00 AM</text>
</g>
<text x="47.5" y="799" font-size="22" fill="#000">49</text>
<text x="982" y="799" font-size="22" fill="#000">Analyze</text>
</svg>
</body></html>
